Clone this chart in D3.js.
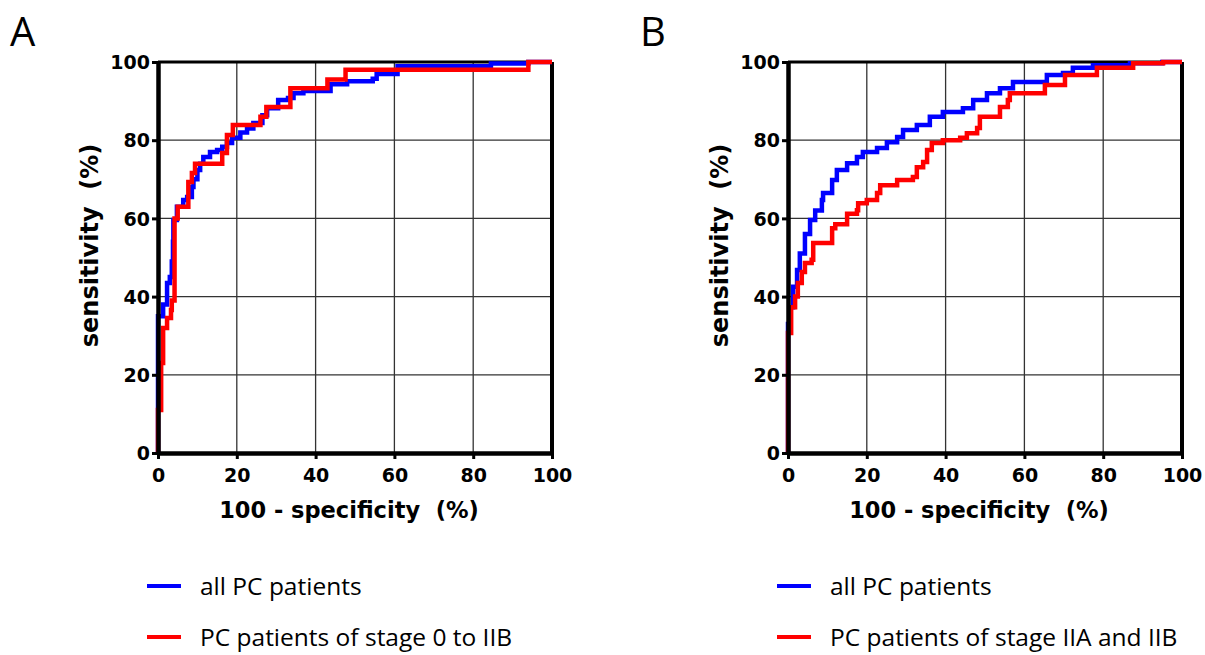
<!DOCTYPE html>
<html>
<head>
<meta charset="utf-8">
<script src="https://cdn.jsdelivr.net/npm/d3@7"></script>
<style>
  body { margin: 0; background: #fff; }
  svg { display: block; }
  .tick text { font-family: "DejaVu Sans", Verdana, sans-serif; font-weight: bold; font-size: 19px; fill: #000; }
</style>
</head>
<body>
<div class="roc-container"></div>
<script>
// 刻度
const xTicks = [0, 20, 40, 60, 80, 100];
const yTicks = [0, 20, 40, 60, 80, 100];

// 圖 A - 每個點 = [100 - specificity, sensitivity]
const allPatientsA = [
  [0, 0], [0, 35], [1.3, 38], [2.3, 43.5], [3, 45], [3.5, 49], [3.8, 54], [3.9, 59.6],
  [4.8, 63], [6.4, 64.7], [7.4, 65.5], [8.6, 68], [9, 70], [10, 72.4], [10.7, 74],
  [11.5, 75.7], [13.2, 77], [15, 77.5], [16.3, 78.3], [17.5, 79.3], [18.8, 80.6],
  [20.9, 82], [22.6, 83], [24.2, 84.4], [26.5, 86.4], [27.7, 88.2], [30.5, 90.3],
  [33, 90.8], [34.4, 92], [36.9, 92.6], [43.8, 94.3], [48, 95.1], [54.5, 95.7],
  [55.5, 96.9], [60.8, 98.9], [84.5, 99.6], [94, 100], [100, 100]
];
const earlyStageA = [
  [0, 0], [0, 11], [0.8, 23], [1.3, 32], [2.3, 34.5], [3.3, 36.6], [3.5, 39], [4.2, 60],
  [5, 63], [7.7, 69.3], [8.6, 71.6], [9.4, 74], [16.3, 76.7], [17.5, 81.3], [19, 83.9],
  [26, 86], [27.5, 88.5], [33.6, 93.3], [43, 95.5], [47.6, 98], [94, 100], [100, 100]
];

// 圖 B
const allPatientsB = [
  [0, 0], [0, 33], [0.5, 37.3], [1.3, 42.5], [2.3, 46.8], [3, 51], [4.3, 56], [5.6, 59.6],
  [6.9, 62], [8.6, 64.7], [8.9, 66.5], [11.2, 69.8], [12.4, 72.4], [15, 74.1], [17.5, 75.7],
  [19, 77], [22.6, 78], [25.1, 79.5], [27.7, 80.8], [29.2, 82.6], [32.7, 83.9], [36, 86],
  [39.3, 87.2], [44.4, 88.2], [47, 90.3], [50.5, 92], [53.8, 93.3], [57.1, 94.9],
  [65.7, 96.7], [69.8, 97.2], [72.3, 98.5], [77.4, 99.2], [86.8, 99.7], [95, 100], [100, 100]
];
const stageIIB = [
  [0, 0], [0, 30.7], [0.8, 37.3], [1.8, 40], [2.5, 43.5], [3.5, 46.3], [4.3, 48.6], [6, 49.4],
  [6.4, 53.7], [11.2, 57.5], [12, 58.5], [15, 61.2], [17.5, 62.1], [17.8, 63.9], [20, 64.7],
  [22.6, 66.5], [23.4, 68.5], [27.7, 69.8], [31.7, 70.6], [32.7, 73.1], [34.3, 74.4],
  [35.3, 77.5], [36.5, 79.3], [39.3, 80], [43.7, 80.6], [45.4, 81.8], [48, 83.1], [48.7, 86],
  [53.8, 88.5], [55.8, 90.3], [56.3, 92], [65.2, 94.1], [70.3, 96.7], [78.4, 98.5],
  [87.6, 99.7], [95.2, 100], [100, 100]
];

const panels = [
  {
    label: 'A', left: 158, labelX: 10,
    series: [
      { name: 'all PC patients', color: '#0000ff', values: allPatientsA },
      { name: 'PC patients of stage 0 to IIB', color: '#ff0000', values: earlyStageA }
    ]
  },
  {
    label: 'B', left: 788, labelX: 640,
    series: [
      { name: 'all PC patients', color: '#0000ff', values: allPatientsB },
      { name: 'PC patients of stage IIA and IIB', color: '#ff0000', values: stageIIB }
    ]
  }
];

const svg_width = 1205;
const svg_height = 655;
const chart_width = 394;
const chart_top = 62;
const chart_height = 391;

const svg = d3.select('.roc-container').append('svg')
  .attr('width', svg_width).attr('height', svg_height);

function drawPanel(p) {
  const g = svg.append('g').attr('transform', `translate(${p.left},${chart_top})`);
  const xScale = d3.scaleLinear().domain([0, 100]).range([0, chart_width]);
  const yScale = d3.scaleLinear().domain([0, 100]).range([chart_height, 0]);

  // 格線
  g.append('g').selectAll('line.vgrid').data(xTicks.slice(1, -1)).enter()
    .append('line')
    .attr('x1', d => xScale(d)).attr('x2', d => xScale(d))
    .attr('y1', 0).attr('y2', chart_height)
    .style('stroke', '#333').style('stroke-width', 1.3);
  g.append('g').selectAll('line.hgrid').data(yTicks.slice(1, -1)).enter()
    .append('line')
    .attr('x1', 0).attr('x2', chart_width)
    .attr('y1', d => yScale(d)).attr('y2', d => yScale(d))
    .style('stroke', '#333').style('stroke-width', 1.3);

  // 上框/右框
  g.append('line').attr('x1', 0).attr('x2', chart_width).attr('y1', 0).attr('y2', 0)
    .style('stroke', '#000').style('stroke-width', 3);
  g.append('line').attr('x1', chart_width).attr('x2', chart_width).attr('y1', 0).attr('y2', chart_height)
    .style('stroke', '#000').style('stroke-width', 4);

  // 曲線 (階梯)
  const lineGen = d3.line()
    .x(d => xScale(d[0]))
    .y(d => yScale(d[1]))
    .curve(d3.curveStepAfter);
  g.append('g').selectAll('path.roc').data(p.series).enter()
    .append('path')
    .attr('d', d => lineGen(d.values))
    .style('fill', 'none')
    .style('stroke', d => d.color)
    .style('stroke-width', 4.5);

  // 軸
  const xAxis = d3.axisBottom(xScale).tickValues(xTicks).tickSize(6).tickPadding(10).tickSizeOuter(0);
  const gx = g.append('g').attr('transform', `translate(0,${chart_height})`).call(xAxis);
  gx.select('.domain').style('stroke', '#000').style('stroke-width', 4.5);
  gx.selectAll('.tick line').style('stroke', '#000').style('stroke-width', 3);

  const yAxis = d3.axisLeft(yScale).tickValues(yTicks).tickSize(6).tickPadding(2).tickSizeOuter(0);
  const gy = g.append('g').call(yAxis);
  gy.select('.domain').style('stroke', '#000').style('stroke-width', 4.5);
  gy.selectAll('.tick line').style('stroke', '#000').style('stroke-width', 3);
  gy.selectAll('.tick text').attr('dy', '0.35em');

  // 軸標題
  g.append('text')
    .attr('x', chart_width / 2 - 6).attr('y', chart_height + 65)
    .attr('text-anchor', 'middle')
    .style('font-family', '"DejaVu Sans", Verdana, sans-serif')
    .style('font-weight', 'bold').style('font-size', '22.5px')
    .style('white-space', 'pre')
    .text('100 - specificity  (%)');
  g.append('text')
    .attr('transform', `translate(-60,${chart_height / 2 - 12}) rotate(-90)`)
    .attr('text-anchor', 'middle')
    .style('font-family', '"DejaVu Sans", Verdana, sans-serif')
    .style('font-weight', 'bold').style('font-size', '24px')
    .style('white-space', 'pre')
    .text('sensitivity  (%)');

  // 面板標籤
  svg.append('text')
    .attr('x', p.labelX).attr('y', 46)
    .style('font-family', '"Open Sans", "Liberation Sans", sans-serif')
    .style('font-size', '40px')
    .text(p.label);

  // 圖例
  const legend = svg.append('g').attr('transform', `translate(${p.left - 11},586)`);
  const items = legend.selectAll('g.item').data(p.series).enter()
    .append('g').attr('transform', (d, i) => `translate(0,${i * 51})`);
  items.append('line').attr('x1', 0).attr('x2', 34).attr('y1', 0).attr('y2', 0)
    .style('stroke', d => d.color).style('stroke-width', 4);
  items.append('text').attr('x', 53).attr('y', -1)
    .style('dominant-baseline', 'central')
    .style('font-family', '"Open Sans", "Liberation Sans", sans-serif')
    .style('font-size', '24.5px')
    .text(d => d.name);
}

panels.forEach(drawPanel);
</script>
</body>
</html>
